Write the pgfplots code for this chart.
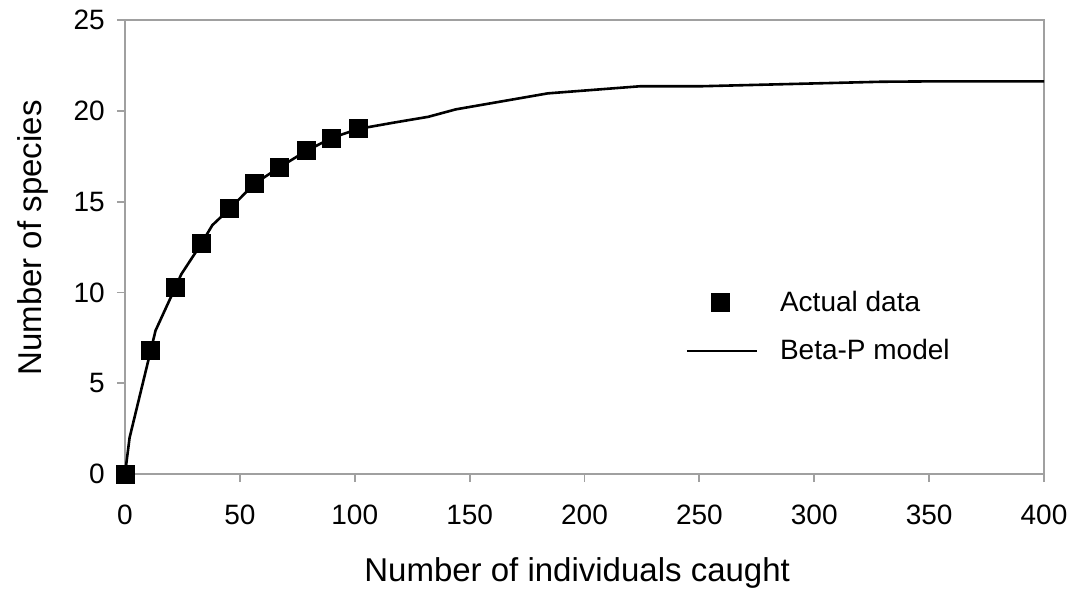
\documentclass[border=0pt]{standalone}
\usepackage{pgfplots}
\pgfplotsset{compat=1.18}
\usepackage{fontspec}
\setmainfont{Liberation Sans}
\definecolor{axgray}{RGB}{160,160,160}
\pgfplotsset{
  legmark/.style={legend image code/.code={\draw[##1] plot coordinates {(17pt,0pt)};}},
  legline/.style={legend image code/.code={\draw[##1] (0pt,0pt) -- (35pt,0pt);}},
}
\begin{document}
\begin{tikzpicture}
\begin{axis}[
  scale only axis,
  width=459.5pt, height=227pt,
  xmin=0, xmax=400, ymin=0, ymax=25,
  xtick={0,50,...,400}, ytick={0,5,...,25},
  axis line style={axgray, line width=0.9pt},
  tick style={axgray, line width=0.9pt},
  tick align=outside, major tick length=4pt,
  xtick pos=left, ytick pos=left,
  /pgf/number format/assume math mode=true,
  ticklabel style={font=\fontsize{14}{16}\selectfont, text=black},
  xticklabel style={yshift=-7.8pt},
  yticklabel style={xshift=-2.6pt},
  xlabel={Number of individuals caught},
  ylabel={Number of species},
  every axis x label/.style={at={(axis description cs:0.492,-0.218)}, anchor=center, font=\fontsize{16.5}{19}\selectfont},
  every axis y label/.style={at={(axis description cs:-0.1,0.52)}, rotate=90, anchor=center, font=\fontsize{16.5}{19}\selectfont},
  legend style={draw=none, fill=none, at={(0.6094,0.3243)}, anchor=west,
    font=\fontsize{14}{16}\selectfont, row sep=8.75pt, inner sep=0pt,
    /tikz/every odd column/.append style={column sep=9pt}},
  legend cell align=left,
  clip=false,
]
\addplot[black, line width=1.3pt, forget plot] coordinates {
(0,0) (2,2.0) (11.2,6.8) (13.3,7.9) (22,10.3) (24.5,11.0) (33.3,12.7) (38,13.7)
(45.5,14.6) (56.5,16.0) (67.4,16.9) (79,17.8) (89.9,18.5) (101.4,19.0)
(117,19.35) (132,19.67) (144,20.08) (184,20.96) (224,21.35) (250,21.35)
(329,21.6) (350,21.62) (400,21.62)};
\addplot[only marks, mark=square*, mark size=4.5pt, black, legmark]
  coordinates {
(0,0) (11.2,6.8) (22,10.3) (33.3,12.7) (45.5,14.6) (56.5,16.0) (67.4,16.9)
(79,17.8) (89.9,18.5) (101.4,19.05)};
\addlegendentry{Actual data}
\addlegendimage{black, line width=1.3pt, legline}
\addlegendentry{Beta-P model}
\end{axis}
\pgfresetboundingbox
\path[use as bounding box] (current axis.south west) ++(-62.5pt,-58.5pt) rectangle ++(537.5pt,295.5pt);
\end{tikzpicture}
\end{document}
